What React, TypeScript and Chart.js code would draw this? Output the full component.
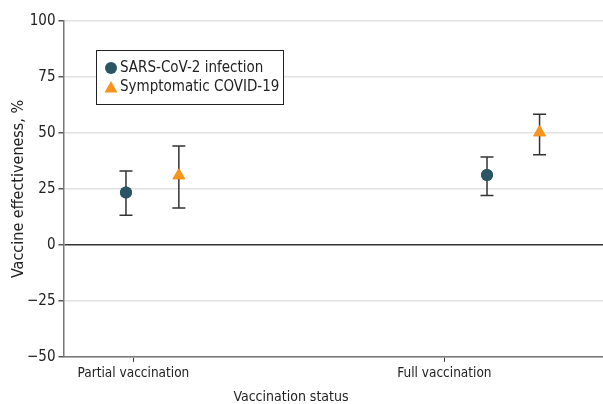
import React, { useEffect, useRef } from "react";
import { Chart, registerables } from "chart.js";

Chart.register(...registerables);

const categories = ["Partial vaccination", "Full vaccination"];
const seriesNames = ["SARS-CoV-2 infection", "Symptomatic COVID-19"];
// position of each series relative to its category on the x scale
const seriesDodge = [-0.024, 0.146, 0.137, 0.306];
const infectionEst = [23.4, 31.2];
const infectionLow = [13.2, 22.0];
const infectionHigh = [33.0, 39.2];
const symptomaticEst = [31.0, 50.2];
const symptomaticLow = [16.5, 40.3];
const symptomaticHigh = [44.2, 58.4];
const yTicks = [-50, -25, 0, 25, 50, 75, 100];

const FONT = "'DejaVu Sans Condensed', 'Liberation Sans Narrow', 'Roboto', sans-serif";
const COLORS = ["#2b5564", "#f7941d"];

const errorBarPlugin = {
  id: "errorBars",
  afterDatasetsDraw(chart: any) {
    const { ctx } = chart;
    const y = chart.scales.y;
    const x = chart.scales.x;
    ctx.save();
    chart.data.datasets.forEach((ds: any) => {
      ds.data.forEach((p: any) => {
        const px = x.getPixelForValue(p.x);
        const top = y.getPixelForValue(p.hi);
        const bot = y.getPixelForValue(p.lo);
        ctx.strokeStyle = "#333";
        ctx.lineWidth = 1.5;
        ctx.beginPath();
        ctx.moveTo(px, top);
        ctx.lineTo(px, bot);
        ctx.moveTo(px - 6.5, top);
        ctx.lineTo(px + 6.5, top);
        ctx.moveTo(px - 6.5, bot);
        ctx.lineTo(px + 6.5, bot);
        ctx.stroke();
      });
    });
    ctx.restore();
  },
};

const pointsOnTopPlugin = {
  id: "pointsOnTop",
  afterDraw(chart: any) {
    const { ctx } = chart;
    chart.data.datasets.forEach((_ds: any, i: number) => {
      const meta = chart.getDatasetMeta(i);
      meta.data.forEach((el: any) => el.draw(ctx, chart.chartArea));
    });
  },
};

const titlesLegendPlugin = {
  id: "titlesLegend",
  afterDraw(chart: any) {
    const { ctx, chartArea } = chart;
    ctx.save();
    ctx.fillStyle = "#222";
    ctx.font = `14px ${FONT}`;
    ctx.textAlign = "center";
    ctx.textBaseline = "middle";
    ctx.fillText("Vaccination status", 291, 397);
    ctx.save();
    ctx.font = `16px ${FONT}`;
    ctx.translate(19, (chartArea.top + chartArea.bottom) / 2);
    ctx.rotate(-Math.PI / 2);
    ctx.fillText("Vaccine effectiveness, %", 0, 0);
    ctx.restore();

    // legend box
    const lx = 96.5, ly = 50.5, lw = 187, lh = 54;
    ctx.fillStyle = "#fff";
    ctx.fillRect(lx, ly, lw, lh);
    ctx.strokeStyle = "#222";
    ctx.lineWidth = 1;
    ctx.strokeRect(lx, ly, lw, lh);
    ctx.textAlign = "left";
    ctx.font = `15px ${FONT}`;
    ctx.fillStyle = COLORS[0];
    ctx.beginPath();
    ctx.arc(111, 68, 6, 0, Math.PI * 2);
    ctx.fill();
    ctx.fillStyle = "#222";
    ctx.fillText(seriesNames[0], 120, 68);
    ctx.fillStyle = COLORS[1];
    ctx.beginPath();
    ctx.moveTo(111, 81);
    ctx.lineTo(117.5, 92.5);
    ctx.lineTo(104.5, 92.5);
    ctx.closePath();
    ctx.fill();
    ctx.fillStyle = "#222";
    ctx.fillText(seriesNames[1], 120, 87);
    ctx.restore();
  },
};

export default function App() {
  const ref = useRef<HTMLCanvasElement>(null);
  useEffect(() => {
    document.body.style.margin = "0";
    const infData = categories.map((_, i) => ({
      x: i + 1 + seriesDodge[i * 2],
      y: infectionEst[i],
      lo: infectionLow[i],
      hi: infectionHigh[i],
    }));
    const symData = categories.map((_, i) => ({
      x: i + 1 + seriesDodge[i * 2 + 1],
      y: symptomaticEst[i],
      lo: symptomaticLow[i],
      hi: symptomaticHigh[i],
    }));
    const chart = new Chart(ref.current!, {
      type: "scatter",
      data: {
        datasets: [
          {
            label: seriesNames[0],
            data: infData,
            pointStyle: "circle",
            pointRadius: 6,
            pointHoverRadius: 6,
            backgroundColor: COLORS[0],
            borderColor: COLORS[0],
            borderWidth: 0,
          },
          {
            label: seriesNames[1],
            data: symData,
            pointStyle: "triangle",
            pointRadius: 7.5,
            pointHoverRadius: 7.5,
            backgroundColor: COLORS[1],
            borderColor: COLORS[1],
            borderWidth: 0,
          },
        ],
      },
      options: {
        animation: false,
        responsive: false,
        layout: { autoPadding: false, padding: { top: 21, right: 0, left: 24, bottom: 18 } },
        plugins: {
          legend: { display: false },
          tooltip: { enabled: false },
        },
        scales: {
          x: {
            type: "linear",
            min: 0.775,
            max: 2.51,
            afterBuildTicks: (axis: any) => {
              axis.ticks = categories.map((_, i) => ({ value: i + 1 }));
            },
            afterFit: (s: any) => {
              s.paddingRight = 0;
              s.paddingLeft = 0;
            },
            ticks: {
              callback: (v: any) => categories[Math.round(Number(v)) - 1] ?? "",
              font: { family: FONT, size: 13.5 },
              color: "#222",
              padding: 4,
              maxRotation: 0,
              autoSkip: false,
            },
            grid: {
              drawOnChartArea: false,
              drawTicks: true,
              tickLength: 5,
              tickColor: "#333",
            },
            border: { color: "#777", width: 1.5 },
          },
          y: {
            min: -50,
            max: 100,
            afterBuildTicks: (axis: any) => {
              axis.ticks = yTicks.map((v) => ({ value: v }));
            },
            afterFit: (s: any) => {
              s.paddingTop = 0;
              s.paddingBottom = 0;
            },
            ticks: {
              callback: (v: any) => String(v).replace("-", "\u2212"),
              font: { family: FONT, size: 15 },
              color: "#222",
              padding: 3,
            },
            grid: {
              color: (c: any) => (c.tick && c.tick.value === 0 ? "#333" : "#e2e2e2"),
              lineWidth: 1.5,
              tickColor: "#555",
              tickLength: 5,
            },
            border: { color: "#777", width: 1.5 },
          },
        },
      },
      plugins: [errorBarPlugin, pointsOnTopPlugin, titlesLegendPlugin],
    });
    return () => chart.destroy();
  }, []);
  return (
    <div style={{ width: 603, height: 404 }}>
      <canvas ref={ref} width={603} height={404} style={{ display: "block" }} />
    </div>
  );
}
